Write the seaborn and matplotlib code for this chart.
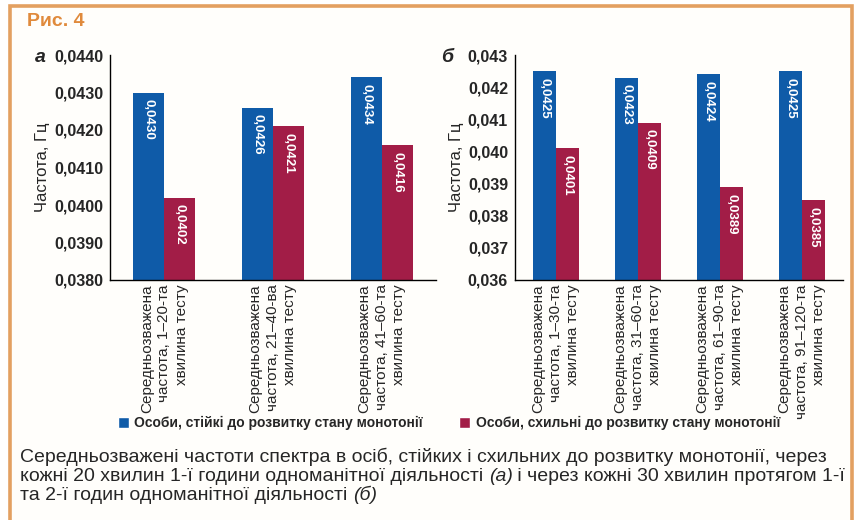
import matplotlib
matplotlib.use("Agg")
import matplotlib.pyplot as plt
import seaborn as sns
import pandas as pd
from matplotlib import font_manager
from matplotlib.patches import Rectangle, Patch
from matplotlib.ticker import FixedLocator, FuncFormatter

# ---------------- data ----------------
series_names = ["Особи, стійкі до розвитку стану монотонії",
                "Особи, схильні до розвитку стану монотонії"]

cats_a = ["Середньозважена\nчастота, 1–20-та\nхвилина тесту",
          "Середньозважена\nчастота, 21–40-ва\nхвилина тесту",
          "Середньозважена\nчастота, 41–60-та\nхвилина тесту"]
stable_a = [0.0430, 0.0426, 0.0434]
prone_a = [0.0402, 0.0421, 0.0416]

cats_b = ["Середньозважена\nчастота, 1–30-та\nхвилина тесту",
          "Середньозважена\nчастота, 31–60-та\nхвилина тесту",
          "Середньозважена\nчастота, 61–90-та\nхвилина тесту",
          "Середньозважена\nчастота, 91–120-та\nхвилина тесту"]
stable_b = [0.0425, 0.0423, 0.0424, 0.0425]
prone_b = [0.0401, 0.0409, 0.0389, 0.0385]

yticks_a = [0.038, 0.039, 0.040, 0.041, 0.042, 0.043, 0.044]
yticks_b = [0.036, 0.037, 0.038, 0.039, 0.040, 0.041, 0.042, 0.043]

ylabel = "Частота, Гц"
fig_title = "Рис. 4"
caption_lines = [
    [("Середньозважені частоти спектра в осіб, стійких і схильних до розвитку монотонії, через", "normal")],
    [("кожні 20 хвилин 1-ї години одноманітної діяльності ", "normal"), ("(а)", "italic"),
     (" і через кожні 30 хвилин протягом 1-ї", "normal")],
    [("та 2-ї годин одноманітної діяльності ", "normal"), ("(б)", "italic")],
]

# ---------------- style ----------------
sns.set_style("white")
avail = {f.name for f in font_manager.fontManager.ttflist}
NARROW = "Liberation Sans Narrow" if "Liberation Sans Narrow" in avail else "Liberation Sans"
REG = "Liberation Sans"
plt.rcParams["font.family"] = [REG, "DejaVu Sans"]

BLUE = "#0f5ba8"
RED = "#a21d47"
ORANGE = "#e3a061"
BG = "#fffefb"

W, H = 862, 520
fig = plt.figure(figsize=(W / 100, H / 100), dpi=100, facecolor="white")


def fx(px):
    return px / W


def fy(py):
    return 1 - py / H


fig.patches.append(Rectangle((fx(10), fy(560)), fx(842), 554 / H, transform=fig.transFigure,
                             facecolor=BG, edgecolor=ORANGE, linewidth=2.6, zorder=-10))

axA = fig.add_axes([fx(110), fy(280), fx(436) - fx(110), (280 - 55) / H])
axB = fig.add_axes([fx(515), fy(280), fx(843) - fx(515), (280 - 55) / H])


def make_df(cats, s1, s2):
    rows = []
    for c, v in zip(cats, s1):
        rows.append({"cat": c, "group": series_names[0], "value": v})
    for c, v in zip(cats, s2):
        rows.append({"cat": c, "group": series_names[1], "value": v})
    return pd.DataFrame(rows)


def draw_panel(ax, cats, s1, s2, yticks, decimals, letter, letter_px):
    df = make_df(cats, s1, s2)
    sns.barplot(data=df, x="cat", y="value", hue="group", order=cats,
                hue_order=series_names, palette=[BLUE, RED], width=0.57, gap=0,
                saturation=1, legend=False, ax=ax, linewidth=0, zorder=2)
    ax.set_facecolor("none")
    ax.set_xlim(-0.5, len(cats) - 0.5)
    ax.set_ylim(yticks[0], yticks[-1])
    ax.yaxis.set_major_locator(FixedLocator(yticks))
    ax.yaxis.set_major_formatter(FuncFormatter(lambda v, p: f"{v:.{decimals}f}".replace(".", ",")))
    ax.tick_params(axis="y", direction="out", length=4, width=1, color="black",
                   labelsize=11.5, pad=1)
    for lab in ax.get_yticklabels():
        lab.set_fontweight("bold")
    ax.set_xticks(range(len(cats)))
    ax.set_xticklabels(cats, rotation=90, ha="center", va="top", multialignment="right",
                       fontsize=11, linespacing=1.3)
    ax.tick_params(axis="x", which="major", length=0, pad=3)
    ax.set_xticks([i - 0.5 for i in range(len(cats) + 1)], minor=True)
    ax.tick_params(axis="x", which="minor", direction="out", length=4, width=1, color="black")
    ax.set_xlabel("")
    ax.set_ylabel(ylabel, fontsize=12, labelpad=3)
    for s in ["top", "right"]:
        ax.spines[s].set_visible(False)
    for s in ["left", "bottom"]:
        ax.spines[s].set_color("black")
        ax.spines[s].set_linewidth(1)
    # value labels inside bars
    for cont, vals in zip(ax.containers, [s1, s2]):
        for bar, v in zip(cont, vals):
            xc = bar.get_x() + bar.get_width() / 2
            top = bar.get_y() + bar.get_height()
            ax.annotate(f"{v:.4f}".replace(".", ","), (xc, top), xytext=(0, -5),
                        textcoords="offset points", rotation=270, ha="center", va="top",
                        color="white", fontsize=9.5, fontweight="bold",
                        family=[NARROW, "DejaVu Sans"], zorder=3)
    fig.text(fx(letter_px), fy(58), letter, fontsize=14, fontweight="bold", style="italic",
             ha="center", va="center")


draw_panel(axA, cats_a, stable_a, prone_a, yticks_a, 4, "а", 40)
draw_panel(axB, cats_b, stable_b, prone_b, yticks_b, 3, "б", 447)

fig.text(fx(27), fy(22), fig_title, fontsize=14, fontweight="bold", color="#e08a3c",
         ha="left", va="center")

handles = [Patch(facecolor=BLUE), Patch(facecolor=RED)]
fig.legend(handles, series_names, ncol=2, loc="center", bbox_to_anchor=(fx(449), fy(423)),
           frameon=False, handlelength=0.8, handleheight=0.8, handletextpad=0.4,
           columnspacing=2.6, prop={"family": [NARROW, "DejaVu Sans"], "weight": "bold", "size": 10})

# caption
renderer = fig.canvas.get_renderer()
inv = fig.transFigure.inverted()
baselines = [462, 481, 500]
for pieces, bl in zip(caption_lines, baselines):
    x = fx(20)
    for txt, st in pieces:
        t = fig.text(x, fy(bl), txt, fontsize=14, style=st, ha="left", va="baseline",
                     family=[REG, "DejaVu Sans"])
        bb = t.get_window_extent(renderer)
        x = inv.transform((bb.x1, bb.y0))[0]

fig.savefig("out.png", dpi=100, facecolor="white")
